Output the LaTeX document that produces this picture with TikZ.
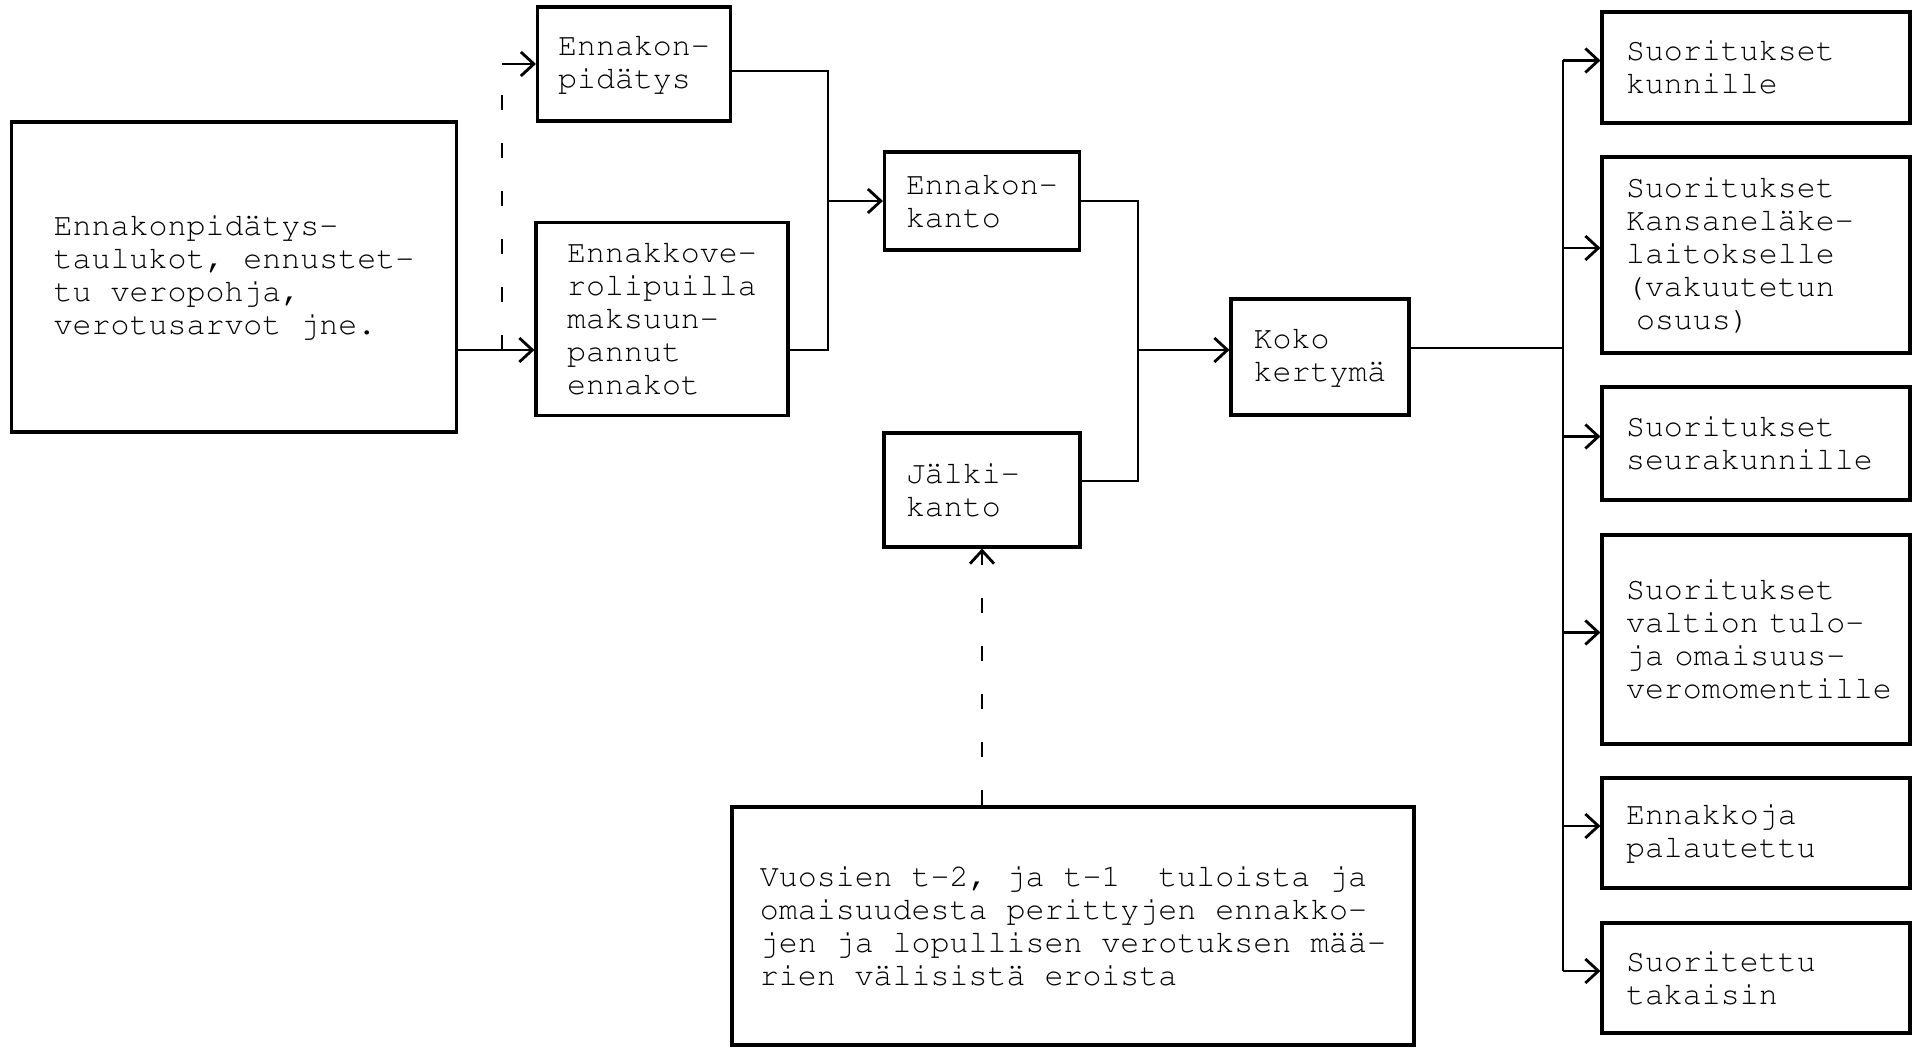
\documentclass[tikz,border=0pt]{standalone}
\usepackage[T1]{fontenc}
\usepackage{courier}
\usetikzlibrary{arrows.meta}
\hyphenpenalty=10000

\begin{document}
\begin{tikzpicture}[
	block/.style={draw, line width=0.9pt, inner sep=0pt, align=left,
		font=\ttfamily\fontsize{9}{9.4}\selectfont},
	outbox/.style={block, minimum width=3.08cm, text width=2.6cm},
	link/.style={line width=0.8pt},
	flow/.style={link, -{Straight Barb[length=0.13cm,width=0.24cm]}},
	dashline/.style={link, dash pattern=on 0.15cm off 0.33cm}]
	  \useasboundingbox (0,0) rectangle (19.15,10.52);
	  % left part
	  \node [block, minimum width=4.45cm, minimum height=3.10cm] (taulu) at (2.34,7.75)
	    {Ennakonpidätys-\\taulukot, ennustet-\\tu veropohja,\\verotusarvot jne.};
	  \node [block, minimum width=1.93cm, minimum height=1.14cm] (pidatys) at (6.34,9.88)
	    {Ennakon-\\pidätys};
	  \node [block, minimum width=2.52cm, minimum height=1.93cm] (rolli) at (6.62,7.33)
	    {Ennakkove-\\rolipuilla\\maksuun-\\pannut\\ennakot};
	  \node [block, minimum width=1.95cm, minimum height=0.98cm, text width=1.52cm] (kanto) at (9.82,8.51)
	    {Ennakon-\\kanto};
	  \node [block, minimum width=1.96cm, minimum height=1.14cm, text width=1.52cm] (jalki) at (9.82,5.62)
	    {Jälki-\\kanto};
	  \node [block, minimum width=1.78cm, minimum height=1.16cm] (koko) at (13.20,6.95)
	    {Koko\\kertymä};
	  \node [block, minimum width=6.82cm, minimum height=2.38cm] (vuosi) at (10.73,1.26)
	    {Vuosien t-2, ja t-1~ tuloista ja\\omaisuudesta perittyjen ennakko-\\jen ja lopullisen verotuksen mää-\\rien välisistä eroista};
	  % right part
	  \node [outbox, minimum height=1.11cm] (out1) at (17.56,9.845) {Suoritukset\\kunnille};
	  \node [outbox, minimum height=1.96cm] (out2) at (17.56,7.97)
	    {Suoritukset\\Kansaneläke-\\laitokselle\\(vakuutetun\\\hspace*{0.1cm}osuus)};
	  \node [outbox, minimum height=1.13cm] (out3) at (17.56,6.085) {Suoritukset\\seurakunnille};
	  \node [outbox, minimum height=2.09cm] (out4) at (17.56,4.125)
	    {Suoritukset\\valtion tulo-\\ja omaisuus-\\veromomentille};
	  \node [outbox, minimum height=1.10cm] (out5) at (17.56,2.19) {Ennakkoja\\palautettu};
	  \node [outbox, minimum height=1.10cm] (out6) at (17.56,0.74) {Suoritettu\\takaisin};

	  \coordinate (fork) at (5.02,7.02);
	  \coordinate (join1) at (8.28,8.51);
	  \coordinate (join2) at (11.38,7.02);
	  \coordinate (bus) at (15.63,7.04);

	  \draw [flow] (fork -| taulu.east) -- (fork -| rolli.west);
	  \draw [dashline] (fork) -- (fork |- pidatys.west);
	  \draw [flow] (fork |- pidatys.west) -- (pidatys.west);
	  \draw [link] ([yshift=-0.07cm]pidatys.east) -| (join1) |- ([yshift=-0.31cm]rolli.east);
	  \draw [flow] (join1) -- (kanto.west);
	  \draw [link] (kanto.east) -| (join2) |- ([yshift=0.09cm]jalki.east);
	  \draw [flow] (join2) -- (join2 -| koko.west);
	  \draw [dashline, -{Straight Barb[length=0.13cm,width=0.24cm]}] (vuosi.north -| jalki.south) -- (jalki.south);
	  \draw [link] (bus -| koko.east) -- (bus);
	  \foreach \o in {out1,out2,out3,out4,out5,out6}
	    \coordinate (\o-in) at ([yshift=0.07cm]\o.west);
	  \draw [link] (out1-in -| bus) -- (out6-in -| bus);
	  \foreach \o in {out1,out2,out3,out4,out5,out6}
	    \draw [flow] (\o-in -| bus) -- (\o-in);
	 \end{tikzpicture}
\end{document}
